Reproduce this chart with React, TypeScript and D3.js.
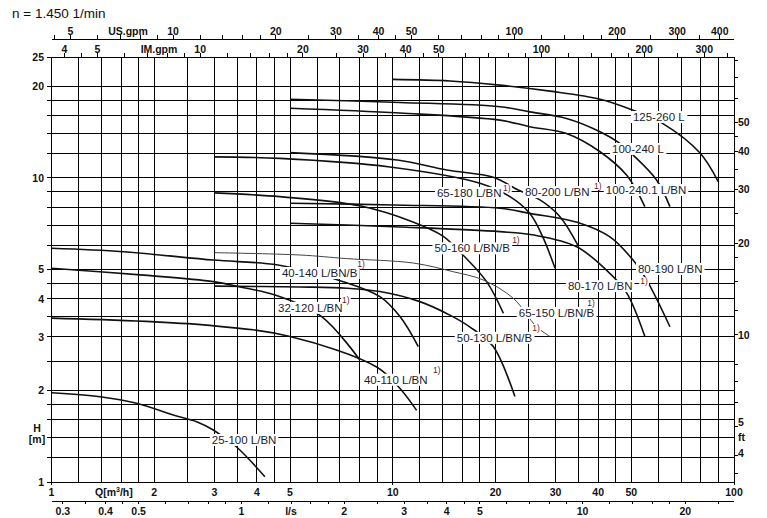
import React, { useEffect, useRef } from "react";
import * as d3 from "d3";

const W = 767;
const HT = 518;

// grid / tick values
const qGrid = [1, 1.2, 1.4, 1.6, 1.8, 2, 2.5, 3, 3.5, 4, 4.5, 5, 6, 7, 8, 9, 10, 12, 14, 16, 18, 20, 25, 30, 35, 40, 45, 50, 60, 70, 80, 90, 100];
const hGrid = [1, 1.2, 1.4, 1.6, 1.8, 2, 2.5, 3, 3.5, 4, 4.5, 5, 6, 7, 8, 9, 10, 12, 14, 16, 18, 20, 25];
const qLabels = [1, 2, 3, 4, 5, 10, 20, 30, 40, 50, 100];
const qMajor = [1, 10, 100];
const hLabels = [1, 2, 3, 4, 5, 10, 20, 25];
const lsTicks = [0.3, 0.35, 0.4, 0.45, 0.5, 0.6, 0.7, 0.8, 0.9, 1, 1.2, 1.4, 1.6, 1.8, 2, 2.5, 3, 3.5, 4, 4.5, 5, 6, 7, 8, 9, 10, 12, 14, 16, 18, 20, 25];
const lsLabels = [0.3, 0.4, 0.5, 1, 2, 3, 4, 5, 10, 20];
const usTicks = [4.5, 5, 6, 7, 8, 9, 10, 12, 14, 16, 18, 20, 25, 30, 35, 40, 45, 50, 60, 70, 80, 90, 100, 120, 140, 160, 180, 200, 250, 300, 350, 400];
const usLabels = [5, 10, 20, 30, 40, 50, 100, 200, 300, 400];
const imTicks = [4, 4.5, 5, 6, 7, 8, 9, 10, 12, 14, 16, 18, 20, 25, 30, 35, 40, 45, 50, 60, 70, 80, 90, 100, 120, 140, 160, 180, 200, 250, 300, 350];
const imLabels = [4, 5, 10, 20, 30, 40, 50, 100, 200, 300];
const ftTicks = [3.5, 4, 5, 6, 7, 8, 10, 12, 15, 18, 20, 25, 30, 35, 40, 45, 50, 60, 70, 80];
const ftLabels = [4, 5, 10, 20, 30, 40, 50];

// unit conversions
const US_PER_M3H = 4.4029;
const IM_PER_M3H = 3.6662;
const M3H_PER_LS = 3.6;
const FT_PER_M = 3.2808;

// pump curves [Q m3/h, H m]
const c125_260: [number, number][] = [[10, 21.1], [14.7, 20.85], [20.6, 20.2], [28.9, 19.3], [40.5, 18.15], [50.6, 16.7], [61.9, 15.1], [79.4, 12.1], [89.9, 9.72]];
const c100_240: [number, number][] = [[5, 18.15], [10.5, 17.72], [20.6, 17.16], [25.2, 16.5], [32.3, 15.7], [40.5, 14.2], [46.3, 13.0], [50.6, 11.9], [59.3, 9.85], [64.9, 8.05]];
const c100_240_1: [number, number][] = [[5, 16.96], [10.5, 16.36], [20.6, 15.5], [25.2, 14.75], [32.3, 14.0], [40.5, 12.2], [48.5, 10.2], [54.8, 8.05]];
const c80_200: [number, number][] = [[5, 12.12], [10.3, 11.46], [14.4, 10.62], [19.7, 10.05], [23.3, 9.13], [27, 8.47], [30.9, 7.46], [34.9, 6.0]];
const c65_180: [number, number][] = [[3, 11.73], [4.67, 11.6], [9.81, 10.87], [18.0, 9.61], [22.05, 8.68], [25.2, 7.65], [27.5, 6.41], [29.9, 5.05]];
const c50_160: [number, number][] = [[3, 8.93], [4.67, 8.68], [8, 8.1], [11.46, 7.17], [14.0, 6.45], [16.06, 5.58], [18.84, 4.56], [21.1, 3.59]];
const c80_190: [number, number][] = [[5, 8.26], [10, 8.15], [20.6, 7.95], [25.2, 7.65], [35.4, 7.1], [43.3, 6.4], [50.6, 5.37], [55.45, 4.62], [64.9, 3.24]];
const c80_170: [number, number][] = [[5, 7.1], [10.5, 6.9], [20.6, 6.66], [25.9, 6.49], [34.6, 5.94], [43.3, 4.85], [48.5, 4.18], [54.8, 3.01]];
const c65_150: [number, number][] = [[3, 5.68], [5.35, 5.58], [7.33, 5.43], [11.5, 5.25], [15.0, 4.92], [18.4, 4.62], [22.55, 4.02], [26.4, 3.24], [28.9, 3.01]];
const c50_130: [number, number][] = [[3, 4.41], [5.35, 4.38], [7.33, 4.34], [9.17, 4.23], [12.0, 3.92], [14.7, 3.54], [16.8, 3.24], [19.7, 2.79], [22.8, 1.91]];
const c40_140: [number, number][] = [[1, 5.87], [1.62, 5.72], [2.98, 5.37], [4.61, 5.17], [7.16, 4.56], [9.17, 4.07], [10.5, 3.5], [11.88, 2.79]];
const c32_120: [number, number][] = [[1, 5.05], [1.82, 4.8], [2.98, 4.56], [3.57, 4.38], [4.52, 4.12], [6.19, 3.5], [8.01, 2.52]];
const c40_110: [number, number][] = [[1, 3.46], [2.85, 3.28], [5, 3.01], [8.97, 2.39], [10.38, 2.06], [11.75, 1.72]];
const c25_100: [number, number][] = [[1, 1.967], [1.387, 1.908], [1.776, 1.815], [2.274, 1.661], [2.663, 1.579], [2.979, 1.483], [3.48, 1.306], [4.22, 1.041]];

const curves = [c125_260, c100_240, c100_240_1, c80_200, c65_180, c50_160, c80_190, c80_170, c65_150, c50_130, c40_140, c32_120, c40_110, c25_100];
const thinCurves = [c65_150];

// curve labels: name, anchor [Q, H] (left edge, middle)
const labelNames = ["125-260 L", "100-240 L", "100-240.1 L/BN", "65-180 L/BN", "80-200 L/BN", "50-160 L/BN/B", "40-140 L/BN/B", "80-190 L/BN", "80-170 L/BN", "65-150 L/BN/B", "32-120 L/BN", "50-130 L/BN/B", "40-110 L/BN", "25-100 L/BN"];
const labelAnchors: [number, number][] = [[50.56, 15.87], [43.9, 12.46], [42.1, 9.13], [13.47, 8.93], [24.4, 8.99], [13.25, 5.87], [4.735, 4.87], [52.3, 5.02], [32.6, 4.41], [23.4, 3.6], [4.61, 3.74], [15.4, 2.98], [8.23, 2.17], [2.95, 1.375]];
// footnote marks "1)": anchor [Q, H] (centre), or null
const supAnchors: ([number, number] | null)[] = [null, null, null, [21.6, 9.27], [39.9, 9.41], [22.96, 6.25], [8.07, 5.21], null, [54.5, 4.58], [38.1, 3.88], [7.29, 3.97], [26.3, 3.21], [13.47, 2.34], null];

export default function App() {
  const ref = useRef<SVGSVGElement>(null);
  useEffect(() => {
    document.body.style.margin = "0";
    const svg = d3.select(ref.current);
    svg.selectAll("*").remove();
    const font = "'Liberation Sans', Arial, Helvetica, sans-serif";
    const x = d3.scaleLog().domain([1, 100]).range([51.5, 734]);
    const y = d3.scaleLog().domain([1, 25]).range([482, 57]);
    const top = y(25), bot = y(1), left = x(1), right = x(100);

    svg.append("rect").attr("width", W).attr("height", HT).attr("fill", "#fff");

    // grid
    const g = svg.append("g").attr("shape-rendering", "crispEdges").attr("stroke", "#000").attr("stroke-width", 1);
    g.selectAll("line.v").data(qGrid).join("line").attr("class", "v")
      .attr("x1", (d) => x(d)).attr("x2", (d) => x(d)).attr("y1", top).attr("y2", bot);
    g.selectAll("line.m").data(qMajor).join("line").attr("class", "m")
      .attr("x1", (d) => x(d)).attr("x2", (d) => x(d)).attr("y1", bot).attr("y2", bot + 3);
    g.selectAll("line.h").data(hGrid).join("line").attr("class", "h")
      .attr("y1", (d) => y(d)).attr("y2", (d) => y(d)).attr("x1", left - 5).attr("x2", right);

    // curves
    const line = d3.line<[number, number]>().x((d) => x(d[0])).y((d) => y(d[1])).curve(d3.curveCatmullRom.alpha(0.5));
    svg.append("g").selectAll("path").data(curves).join("path")
      .attr("d", (d) => line(d))
      .attr("fill", "none")
      .attr("stroke", (d) => (thinCurves.includes(d) ? "#444" : "#111"))
      .attr("stroke-width", (d) => (thinCurves.includes(d) ? 1 : 1.6));

    // curve labels
    const lg = svg.append("g");
    labelNames.forEach((name, i) => {
      const [q, h] = labelAnchors[i];
      const gg = lg.append("g");
      const t = gg.append("text").attr("x", x(q)).attr("y", y(h)).attr("dy", "0.35em")
        .attr("font-family", font).attr("font-size", 11.5).attr("fill", "#1b1b2f").text(name);
      const bb = (t.node() as SVGTextElement).getBBox();
      gg.insert("rect", "text").attr("x", bb.x - 2).attr("y", bb.y).attr("width", bb.width + 4).attr("height", bb.height).attr("fill", "#fff");
      const sa = supAnchors[i];
      if (sa) {
        const s = gg.append("text").attr("x", x(sa[0])).attr("y", y(sa[1])).attr("dy", "0.35em").attr("text-anchor", "middle")
          .attr("font-family", font).attr("font-size", 8.5).attr("fill", "#6b1a1a").text("1)");
        const sb = (s.node() as SVGTextElement).getBBox();
        gg.insert("rect", "text").attr("x", sb.x - 1).attr("y", sb.y + 1).attr("width", sb.width + 2).attr("height", sb.height - 2).attr("fill", "#fff");
      }
    });

    const ax = svg.append("g").attr("font-family", font).attr("font-size", 10.5).attr("font-weight", 700).attr("fill", "#111");
    const tk = svg.append("g").attr("shape-rendering", "crispEdges").attr("stroke", "#000").attr("stroke-width", 1);

    // left axis labels
    ax.selectAll("text.hl").data(hLabels).join("text").attr("class", "hl")
      .attr("x", 44).attr("y", (d) => y(d)).attr("dy", "0.35em").attr("text-anchor", "end").text((d) => String(d));
    ax.append("text").attr("x", 37).attr("y", 428).attr("dy", "0.35em").attr("text-anchor", "middle").text("H");
    ax.append("text").attr("x", 37).attr("y", 439).attr("dy", "0.35em").attr("text-anchor", "middle").text("[m]");

    // bottom Q labels
    ax.selectAll("text.ql").data(qLabels).join("text").attr("class", "ql")
      .attr("x", (d) => x(d)).attr("y", 492).attr("dy", "0.35em").attr("text-anchor", "middle").text((d) => String(d));
    const qt = ax.append("text").attr("x", 95).attr("y", 492).attr("dy", "0.35em");
    qt.append("tspan").text("Q[m");
    qt.append("tspan").attr("font-size", 7).attr("dy", "-4").text("3");
    qt.append("tspan").attr("dy", "4").text("/h]");

    // l/s axis
    tk.append("line").attr("x1", left).attr("x2", right).attr("y1", 501).attr("y2", 501);
    tk.selectAll("line.ls").data(lsTicks).join("line").attr("class", "ls")
      .attr("x1", (d) => x(d * M3H_PER_LS)).attr("x2", (d) => x(d * M3H_PER_LS)).attr("y1", 501).attr("y2", 504);
    ax.selectAll("text.lsl").data(lsLabels).join("text").attr("class", "lsl")
      .attr("x", (d) => x(d * M3H_PER_LS)).attr("y", 511).attr("dy", "0.35em").attr("text-anchor", "middle").text((d) => String(d));
    ax.append("text").attr("x", 291).attr("y", 511).attr("dy", "0.35em").attr("text-anchor", "middle").text("l/s");

    // top US axis
    tk.append("line").attr("x1", left).attr("x2", right).attr("y1", 39).attr("y2", 39);
    tk.selectAll("line.us").data(usTicks).join("line").attr("class", "us")
      .attr("x1", (d) => x(d / US_PER_M3H)).attr("x2", (d) => x(d / US_PER_M3H)).attr("y1", 39).attr("y2", 35);
    ax.selectAll("text.usl").data(usLabels).join("text").attr("class", "usl")
      .attr("x", (d) => x(d / US_PER_M3H)).attr("y", 31).attr("dy", "0.35em").attr("text-anchor", "middle").text((d) => String(d));
    ax.append("text").attr("x", 128).attr("y", 31).attr("dy", "0.35em").attr("text-anchor", "middle").text("US.gpm");

    // top IM axis (on plot top border)
    tk.selectAll("line.im").data(imTicks).join("line").attr("class", "im")
      .attr("x1", (d) => x(d / IM_PER_M3H)).attr("x2", (d) => x(d / IM_PER_M3H)).attr("y1", top).attr("y2", top - 4);
    ax.selectAll("text.iml").data(imLabels).join("text").attr("class", "iml")
      .attr("x", (d) => x(d / IM_PER_M3H)).attr("y", 49).attr("dy", "0.35em").attr("text-anchor", "middle").text((d) => String(d));
    ax.append("text").attr("x", 159).attr("y", 49).attr("dy", "0.35em").attr("text-anchor", "middle").text("IM.gpm");

    // right ft axis
    tk.selectAll("line.ft").data(ftTicks).join("line").attr("class", "ft")
      .attr("y1", (d) => y(d / FT_PER_M)).attr("y2", (d) => y(d / FT_PER_M)).attr("x1", right).attr("x2", right + 4);
    ax.selectAll("text.ftl").data(ftLabels).join("text").attr("class", "ftl")
      .attr("x", right + 4).attr("y", (d) => y(d / FT_PER_M) - (d === 5 ? 4 : d === 4 ? 3 : 0)).attr("dy", "0.35em").text((d) => String(d));
    ax.append("text").attr("x", right + 4).attr("y", 437).attr("dy", "0.35em").text("ft");

    // title
    svg.append("text").attr("x", 12).attr("y", 13).attr("dy", "0.35em").attr("font-family", font).attr("font-size", 13.5).attr("fill", "#111").text("n = 1.450 1/min");
  }, []);
  return <svg ref={ref} width={W} height={HT} style={{ display: "block" }} />;
}
